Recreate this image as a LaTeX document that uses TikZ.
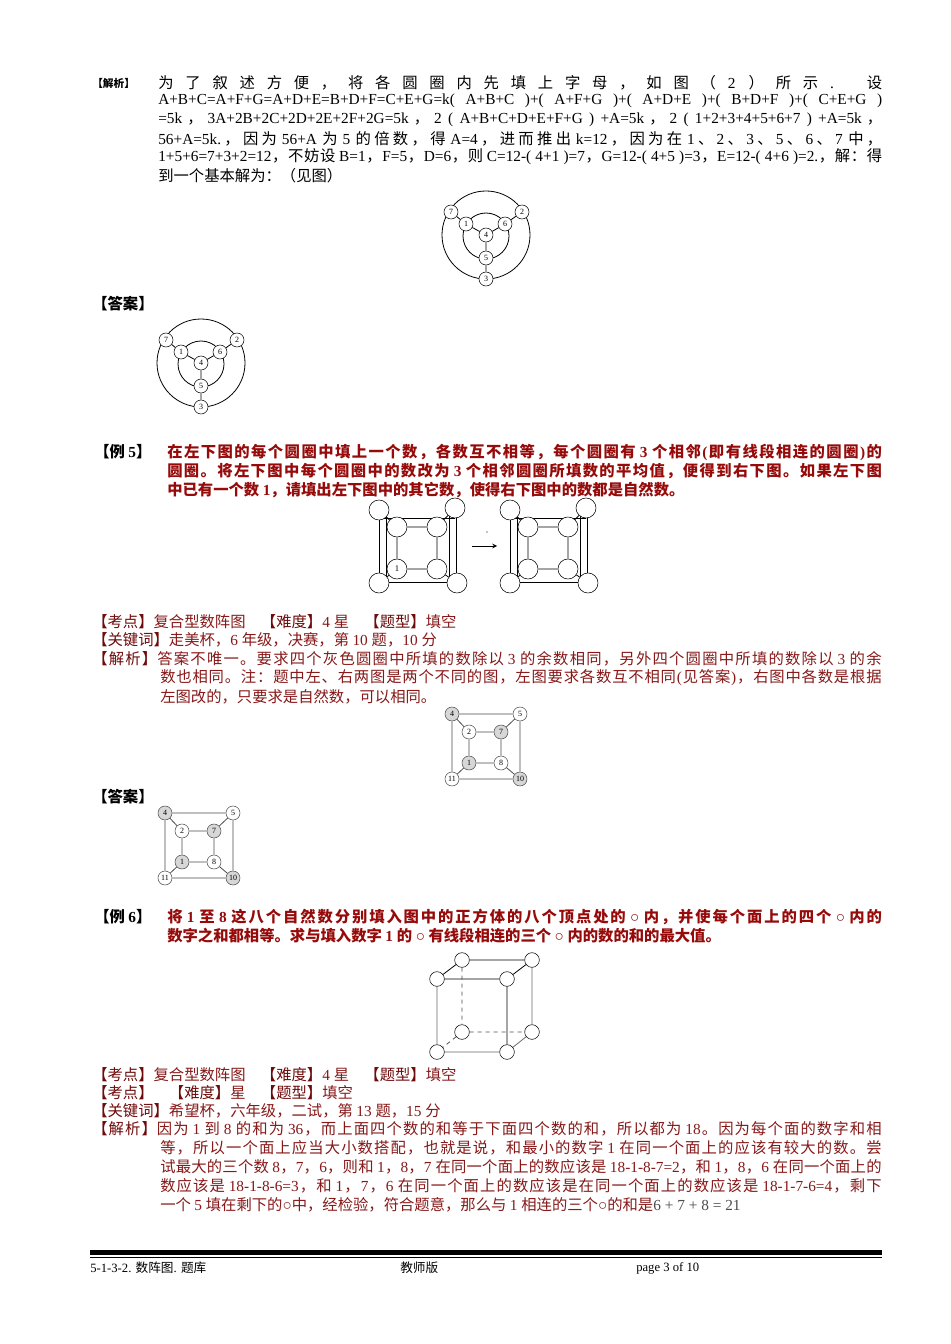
\documentclass[tikz,border=0pt]{standalone}
\usepackage{fontspec}
\setmainfont{Liberation Serif}
\newfontfamily\cjkf{Noto Sans CJK SC}
\newfontfamily\latf{Liberation Serif}
\newcount\cccnt
\def\setclassrange#1#2{\cccnt=#1 \loop \XeTeXcharclass\cccnt=1 \advance\cccnt 1 \ifnum\cccnt<#2 \repeat}
\setclassrange{"4E00}{"A000}
\setclassrange{"3000}{"3040}
\setclassrange{"FF00}{"FFF0}
\XeTeXinterchartokenstate=1
\def\sg{\hskip 0pt plus 3pt\relax}
\XeTeXinterchartoks 0 1 {\sg\cjkf}
\XeTeXinterchartoks 4095 1 {\cjkf}
\XeTeXinterchartoks 1 0 {\sg\latf}
\XeTeXinterchartoks 1 1 {\sg}
\XeTeXinterchartoks 4095 0 {\latf}
\newcommand\fl[2]{\makebox[#1][s]{#2}}
\definecolor{exred}{RGB}{150,10,10}
\definecolor{anred}{RGB}{135,25,25}
\definecolor{lbred}{RGB}{110,10,10}
\definecolor{gfill}{RGB}{215,215,215}
\tikzset{
 txt/.style={anchor=west,inner sep=0,font=\fontsize{11.5}{13}\selectfont},
 btxt/.style={txt,font=\fontsize{11.5}{13}\selectfont\bfseries},
 vc/.style={circle,draw,fill=white,minimum size=10.5pt,inner sep=0,font=\fontsize{6}{7}\selectfont},
 vs/.style={circle,draw,fill=white,minimum size=15pt,inner sep=0,font=\fontsize{6.5}{7}\selectfont},
 gv/.style={vc,fill=gfill},
 ln/.style={line width=0.6pt}
}
\begin{document}
\begin{tikzpicture}[x=0.75pt,y=-0.75pt]
\useasboundingbox (0,0) rectangle (950,1344);
\fill[white] (0,0) rectangle (950,1344);
% ---------- top analysis
\node[txt,font=\fontsize{8}{9}\selectfont\bfseries] (l0) at (92,83) {【解析】};
\node[txt] (t1) at (158,83) {\fl{543pt}{为 了 叙 述 方 便 ， 将 各 圆 圈 内 先 填 上 字 母 ， 如 图 （ 2 ） 所 示 . 设}};
\node[txt] (t2) at (158,101) {\fl{543pt}{A+B+C=A+F+G=A+D+E=B+D+F=C+E+G=k( A+B+C )+( A+F+G )+( A+D+E )+( B+D+F )+( C+E+G )}};
\node[txt] (t3) at (158,120) {\fl{543pt}{=5k，3A+2B+2C+2D+2E+2F+2G=5k，2 ( A+B+C+D+E+F+G ) +A=5k，2 ( 1+2+3+4+5+6+7 ) +A=5k，}};
\node[txt] (t4) at (158,139) {\fl{543pt}{56+A=5k.，因为 56+A 为 5 的倍数，得 A=4，进而推出 k=12，因为在 1、2、3、5、6、7 中，}};
\node[txt] (t5) at (158,157) {\fl{543pt}{1+5+6=7+3+2=12，不妨设 B=1，F=5，D=6，则 C=12-( 4+1 )=7，G=12-( 4+5 )=3，E=12-( 4+6 )=2.，解：得}};
\node[txt] (t6) at (158,176) {到一个基本解为：（见图）};
% wheels
\foreach \dx/\dy/\s in {0/0/a,-285/128/b}{
\begin{scope}[shift={(\dx,\dy)}]
\draw[ln] (486,235) circle[radius=44*0.75pt];
\draw[ln] (486,236) circle[radius=23*0.75pt];
\node[vc] (\s7) at (451,212) {7};
\node[vc] (\s2) at (522,212) {2};
\node[vc] (\s1) at (466,224) {1};
\node[vc] (\s6) at (505,224) {6};
\node[vc] (\s4) at (486,235) {4};
\node[vc] (\s5) at (486,258) {5};
\node[vc] (\s3) at (486,279) {3};
\draw[ln] (\s7)--(\s1) (\s2)--(\s6) (\s1)--(\s4) (\s6)--(\s4) (\s4)--(\s5) (\s5)--(\s3);
\end{scope}}
\node[btxt] (da1) at (92,304) {【答案】};
% ---------- example 5
\node[btxt] (e5) at (94,452) {【例 5】};
\begin{scope}[every node/.style={btxt,text=exred}]
\node (e5a) at (167,452) {\fl{536pt}{在左下图的每个圆圈中填上一个数，各数互不相等，每个圆圈有 3 个相邻(即有线段相连的圆圈)的}};
\node (e5b) at (167,471) {\fl{536pt}{圆圈。将左下图中每个圆圈中的数改为 3 个相邻圆圈所填数的平均值，便得到右下图。如果左下图}};
\node (e5c) at (167,490) {中已有一个数 1，请填出左下图中的其它数，使得右下图中的数都是自然数。};
\end{scope}
\foreach \dx/\s in {0/L,131/R}{
\begin{scope}[shift={(\dx,0)}]
\draw[ln] (379,510)--(379,583) (386,516)--(386,583) (449,510)--(449,578) (456,508)--(456,583)
 (379,518)--(455,518) (379,582)--(455,582);
\node[vs] (\s a) at (379,510) {};
\node[vs] (\s b) at (455,508) {};
\node[vs] (\s c) at (379,583) {};
\node[vs] (\s d) at (457,583) {};
\node[vs] (\s e) at (397,527) {};
\node[vs] (\s f) at (437,527) {};
\node[vs] (\s g) at (397,569) {};
\node[vs] (\s h) at (437,569) {};
\draw[ln] (\s a)--(\s e) (\s b)--(\s f) (\s c)--(\s g) (\s d)--(\s h)
 (\s e)--(\s f)--(\s h)--(\s g)--(\s e);
\end{scope}}
\node[font=\fontsize{6.5}{7}\selectfont] at (397,569) {1};
\coordinate (ar1) at (472,546); \coordinate (ar2) at (497,546);
\draw[ln,-stealth] (ar1)--(ar2);
\fill (487,532) circle[radius=0.5pt];
% info lines ex5
\begin{scope}[every node/.style={txt,text=anred}]
\node (k1) at (92,622) {\textcolor{lbred}{【考点】}复合型数阵图\quad\textcolor{lbred}{【难度】}4 星\quad\textcolor{lbred}{【题型】}填空};
\node (k2) at (92,640) {\textcolor{lbred}{【关键词】}走美杯，6 年级，决赛，第 10 题，10 分};
\node (k3) at (92,659) {\fl{592pt}{\textcolor{lbred}{【解析】}答案不唯一。要求四个灰色圆圈中所填的数除以 3 的余数相同，另外四个圆圈中所填的数除以 3 的余}};
\node (k4) at (160,678) {\fl{541pt}{数也相同。注：题中左、右两图是两个不同的图，左图要求各数互不相同(见答案)，右图中各数是根据}};
\node (k5) at (160,697) {左图改的，只要求是自然数，可以相同。};
\end{scope}
\foreach \dx/\dy/\s in {0/0/p,-287/99/q}{
\begin{scope}[shift={(\dx,\dy)},every node/.append style={draw=black!70}]
\node[gv] (\s4) at (452,714) {4};
\node[vc] (\s5) at (520,714) {5};
\node[vc] (\s11) at (452,779) {11};
\node[gv] (\s10) at (520,779) {10};
\node[vc] (\s2) at (469,732) {2};
\node[gv] (\s7) at (501,732) {7};
\node[gv] (\s1) at (469,763) {1};
\node[vc] (\s8) at (501,763) {8};
\draw[ln,black!70] (\s4)--(\s5)--(\s10)--(\s11)--(\s4) (\s2)--(\s7)--(\s8)--(\s1)--(\s2)
 (\s4)--(\s2) (\s5)--(\s7) (\s10)--(\s8) (\s11)--(\s1);
\end{scope}}
\node[btxt] (da2) at (92,797) {【答案】};
% ---------- example 6
\node[btxt] (e6) at (94,917) {【例 6】};
\begin{scope}[every node/.style={btxt,text=exred}]
\node (e6a) at (167,917) {\fl{536pt}{将 1 至 8 这八个自然数分别填入图中的正方体的八个顶点处的 {\mdseries ○} 内，并使每个面上的四个 {\mdseries ○} 内的}};
\node (e6b) at (167,936) {数字之和都相等。求与填入数字 1 的 {\mdseries ○} 有线段相连的三个 {\mdseries ○} 内的数的和的最大值。};
\end{scope}
\node[vc,minimum size=11pt] (ftl) at (437,979) {};
\node[vc,minimum size=11pt] (ftr) at (507,979) {};
\node[vc,minimum size=11pt] (fbl) at (437,1052) {};
\node[vc,minimum size=11pt] (fbr) at (507,1052) {};
\node[vc,minimum size=11pt] (btl) at (462,960) {};
\node[vc,minimum size=11pt] (btr) at (532,960) {};
\node[vc,minimum size=11pt] (bbl) at (462,1032) {};
\node[vc,minimum size=11pt] (bbr) at (532,1032) {};
\draw[ln] (ftl)--(ftr) (btl)--(btr) (ftl)--(btl) (ftr)--(btr) (ftr)--(fbr);
\draw[ln,black!60] (ftl)--(fbl) (fbl)--(fbr) (btr)--(bbr) (fbr)--(bbr);
\draw[ln,dashed,black!70] (btl)--(bbl) (bbl)--(bbr) (bbl)--(fbl);
\begin{scope}[every node/.style={txt,text=anred}]
\node (m1) at (92,1075) {\textcolor{lbred}{【考点】}复合型数阵图\quad\textcolor{lbred}{【难度】}4 星\quad\textcolor{lbred}{【题型】}填空};
\node (m2) at (92,1093) {\textcolor{lbred}{【考点】}\quad\textcolor{lbred}{【难度】}星\quad\textcolor{lbred}{【题型】}填空};
\node (m3) at (92,1111) {\textcolor{lbred}{【关键词】}希望杯，六年级，二试，第 13 题，15 分};
\node (m4) at (92,1129) {\fl{592pt}{\textcolor{lbred}{【解析】}因为 1 到 8 的和为 36，而上面四个数的和等于下面四个数的和，所以都为 18。因为每个面的数字和相}};
\node (m5) at (160,1148) {\fl{541pt}{等，所以一个面上应当大小数搭配，也就是说，和最小的数字 1 在同一个面上的应该有较大的数。尝}};
\node (m6) at (160,1167) {\fl{541pt}{试最大的三个数 8，7，6，则和 1，8，7 在同一个面上的数应该是 18-1-8-7=2，和 1，8，6 在同一个面上的}};
\node (m7) at (160,1186) {\fl{541pt}{数应该是 18-1-8-6=3，和 1，7，6 在同一个面上的数应该是在同一个面上的数应该是 18-1-7-6=4，剩下}};
\node (m8) at (160,1205) {一个 5 填在剩下的○中，经检验，符合题意，那么与 1 相连的三个○的和是\textcolor{black!70}{6 + 7 + 8 = 21}};
\end{scope}
% footer
\fill (90,1250) rectangle (882,1254.5);
\draw[line width=0.6pt] (90,1257)--(882,1257);
\node[txt,font=\fontsize{9.5}{11}\selectfont] (f1) at (90,1268) {5-1-3-2. 数阵图. 题库};
\node[txt,font=\fontsize{9.5}{11}\selectfont] (f2) at (400,1268) {教师版};
\node[txt,font=\fontsize{9.5}{11}\selectfont] (f3) at (636,1268) {page 3 of 10};
\end{tikzpicture}
\end{document}
